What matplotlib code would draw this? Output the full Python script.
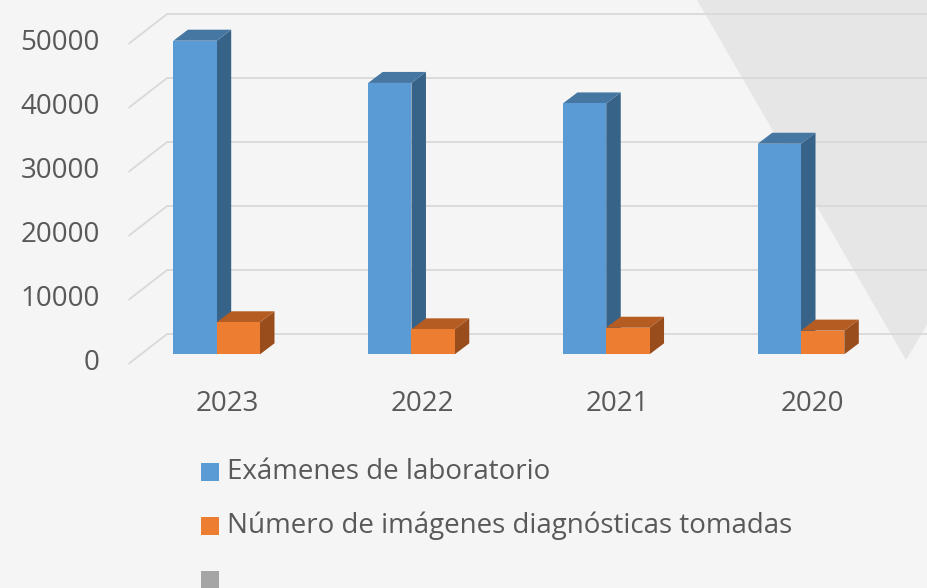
import matplotlib
matplotlib.use("Agg")
import matplotlib.pyplot as plt
from matplotlib.patches import Polygon, Rectangle

plt.rcParams['font.family'] = ['Open Sans', 'DejaVu Sans']

# ---------------- data ----------------
categories = ["2023", "2022", "2021", "2020"]
series_names = ["Exámenes de laboratorio",
                "Número de imágenes diagnósticas tomadas",
                ""]
lab_exams = [49000, 42400, 39200, 32900]
imaging = [5000, 3900, 4150, 3700]
y_ticks = [0, 10000, 20000, 30000, 40000, 50000]

# ---------------- styles ----------------
front_colors = ["#5b9bd5", "#ed7d31", "#a5a5a5"]
top_colors = ["#4677a2", "#b55c22"]
side_colors = ["#386389", "#994c1c"]
text_color = "#595959"
grid_color = "#d9d9d9"
bg_color = "#f5f5f5"

W, H, DPI = 928, 588, 100
PX_CAT = 194.77          # pixels per category
PX_VAL = 64.0 / 10000    # pixels per value unit
X0_PX = 216.7            # pixel x of category 0 centre
Y0_PX = 354.3            # pixel y of value 0 (bar front plane)

fig = plt.figure(figsize=(W / DPI, H / DPI), dpi=DPI)
fig.patch.set_facecolor(bg_color)

ax = fig.add_axes([0, 0, 1, 1])
ax.set_facecolor("none")
ax.axis("off")
ax.set_xlim(-X0_PX / PX_CAT, (W - X0_PX) / PX_CAT)
ax.set_ylim(-(H - Y0_PX) / PX_VAL, Y0_PX / PX_VAL)

# background decoration (darker triangle on the right)
ax.add_patch(Polygon([(697 / W, 1.0), (1120 / W, 1.0), (906 / W, 1 - 360 / H)],
                     closed=True, transform=ax.transAxes, facecolor="#e6e6e6",
                     edgecolor="none", zorder=0, clip_on=False))

# depth geometry (data units)
bar_w = 43.3 / PX_CAT
bar_dx, bar_dy = 14.5 / PX_CAT, 11.0 / PX_VAL
wall_dx, wall_dy = 25.8 / PX_CAT, 20.0 / PX_VAL
front_dx, front_dy = -11.6 / PX_CAT, -9.0 / PX_VAL
left_x = (140.9 - X0_PX) / PX_CAT
right_x = (W + 5 - X0_PX) / PX_CAT

# gridlines: back wall + floor/side diagonals
for t in y_ticks:
    ax.plot([left_x + wall_dx, right_x], [t + wall_dy, t + wall_dy],
            color=grid_color, lw=1.3, zorder=1, solid_capstyle="butt")
    ax.plot([left_x + front_dx, left_x + wall_dx], [t + front_dy, t + wall_dy],
            color=grid_color, lw=1.3, zorder=1)
    ax.text((100 - X0_PX) / PX_CAT, t + front_dy, f"{t}", ha="right",
            va="center", fontsize=20, color=text_color)


def bar3d(x0, h, k):
    x1 = x0 + bar_w
    front = Rectangle((x0, 0), bar_w, h, facecolor=front_colors[k],
                      edgecolor="none", zorder=3 + k)
    top = Polygon([(x0, h), (x1, h), (x1 + bar_dx, h + bar_dy),
                   (x0 + bar_dx, h + bar_dy)], closed=True,
                  facecolor=top_colors[k], edgecolor="none", zorder=3 + k)
    side = Polygon([(x1, 0), (x1, h), (x1 + bar_dx, h + bar_dy),
                    (x1 + bar_dx, bar_dy)], closed=True,
                   facecolor=side_colors[k], edgecolor="none", zorder=3 + k)
    for p in (side, top, front):
        ax.add_patch(p)


for i, (a, b) in enumerate(zip(lab_exams, imaging)):
    bar3d(i - bar_w, a, 0)
    bar3d(i, b, 1)
    ax.text(i + 11 / PX_CAT, -(404 - Y0_PX) / PX_VAL, categories[i],
            ha="center", va="center", fontsize=20, color=text_color)

# legend (manual, figure pixels)
row_y = [472, 526, 580]
for k, name in enumerate(series_names):
    ax.add_patch(Rectangle((201 / W, 1 - (row_y[k] + 9) / H), 18 / W,
                           18 / H, transform=ax.transAxes, clip_on=False,
                           facecolor=front_colors[k], edgecolor="none"))
    if name:
        ax.text(227 / W, 1 - row_y[k] / H, name, ha="left", va="center",
                fontsize=20, color=text_color, transform=ax.transAxes)

fig.savefig("out.png", dpi=DPI, facecolor=fig.get_facecolor())
